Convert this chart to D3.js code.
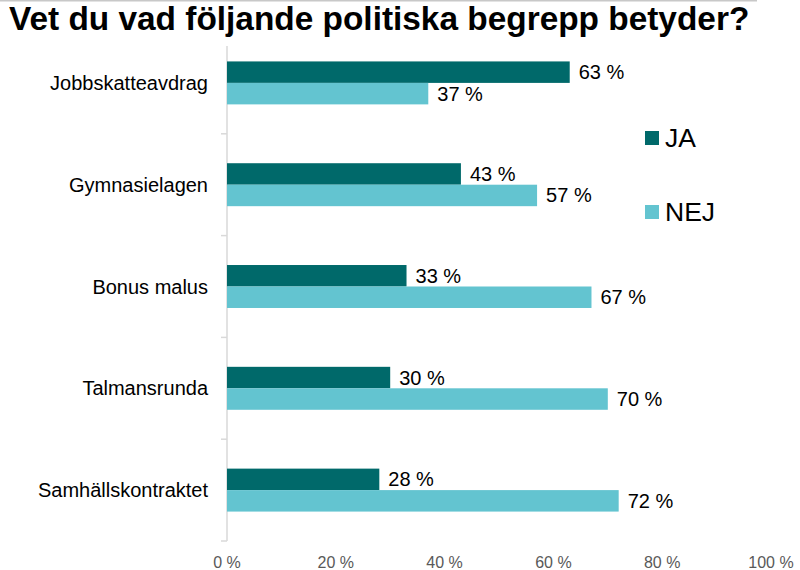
<!DOCTYPE html>
<html>
<head>
<meta charset="utf-8">
<title>Vet du vad följande politiska begrepp betyder?</title>
<style>
  body { margin: 0; background: #fff; }
  text { font-family: "Liberation Sans", Arial, sans-serif; }
</style>
</head>
<body>
<script src="https://d3js.org/d3.v7.min.js"></script>
<script>

var categories = ["Jobbskatteavdrag", "Gymnasielagen", "Bonus malus", "Talmansrunda", "Samhällskontraktet"];
var series = ["JA", "NEJ"];
var jaValues = [63, 43, 33, 30, 28];
var nejValues = [37, 57, 67, 70, 72];
var xTicks = [0, 20, 40, 60, 80, 100];
var colors = ["#00696A", "#63C4D0"];

var width = 800, height = 570;

var svg = d3.select("body")
    .append("svg")
    .attr("width", width)
    .attr("height", height);

// thin border line at the very top
svg.append("line")
    .attr("x1", 0).attr("x2", 757)
    .attr("y1", 0.5).attr("y2", 0.5)
    .attr("stroke", "#c8c8c8")
    .attr("stroke-width", 2);

var x = d3.scaleLinear()
    .domain([0, 100])
    .range([227, 771]);

var y = d3.scaleBand()
    .domain(categories)
    .range([32, 541])
    .paddingInner(0.578)
    .paddingOuter(0.289);

var ySub = d3.scaleBand()
    .domain(series)
    .range([0, y.bandwidth()]);

var rows = categories.map(function(c, i){
    return { cat: c, values: [jaValues[i], nejValues[i]] };
});

// axis line and category ticks
svg.append("line")
    .attr("x1", x(0)).attr("x2", x(0))
    .attr("y1", 46).attr("y2", y.range()[1])
    .attr("stroke", "#d9d9d9")
    .attr("stroke-width", 1.5);

var bounds = d3.range(1, categories.length + 1).map(function(i){
    return y.range()[0] + i * y.step();
});

svg.selectAll(".cattick")
    .data(bounds)
    .enter()
    .append("line")
    .attr("x1", x(0) - 6).attr("x2", x(0))
    .attr("y1", function(d){ return d; })
    .attr("y2", function(d){ return d; })
    .attr("stroke", "#d9d9d9")
    .attr("stroke-width", 1.5);

// bars
var group = svg.selectAll(".row")
    .data(rows)
    .enter()
    .append("g")
    .attr("transform", function(d){ return "translate(0," + y(d.cat) + ")"; });

group.selectAll("rect")
    .data(function(d){ return d.values.map(function(v, j){ return { s: series[j], v: v, j: j }; }); })
    .enter()
    .append("rect")
    .attr("x", x(0))
    .attr("y", function(d){ return ySub(d.s); })
    .attr("width", function(d){ return x(d.v) - x(0); })
    .attr("height", ySub.bandwidth())
    .attr("fill", function(d){ return colors[d.j]; });

group.selectAll(".val")
    .data(function(d){ return d.values.map(function(v, j){ return { s: series[j], v: v }; }); })
    .enter()
    .append("text")
    .attr("x", function(d){ return x(d.v) + 9; })
    .attr("y", function(d){ return ySub(d.s) + ySub.bandwidth() / 2; })
    .attr("dominant-baseline", "central")
    .attr("font-size", "20px")
    .attr("fill", "#000")
    .text(function(d){ return d.v + " %"; });

// category labels
svg.selectAll(".cat")
    .data(categories)
    .enter()
    .append("text")
    .attr("x", 208)
    .attr("y", function(d){ return y(d) + y.bandwidth() / 2; })
    .attr("text-anchor", "end")
    .attr("dominant-baseline", "central")
    .attr("font-size", "20px")
    .attr("fill", "#000")
    .text(function(d){ return d; });

// x tick labels
svg.selectAll(".xtick")
    .data(xTicks)
    .enter()
    .append("text")
    .attr("x", function(d){ return x(d); })
    .attr("y", 562)
    .attr("text-anchor", "middle")
    .attr("dominant-baseline", "central")
    .attr("font-size", "16px")
    .attr("fill", "#595959")
    .text(function(d){ return d + " %"; });

// legend
var legendY = [138, 212];
var legend = svg.selectAll(".legend")
    .data(series)
    .enter()
    .append("g")
    .attr("transform", function(d, i){ return "translate(645," + legendY[i] + ")"; });

legend.append("rect")
    .attr("x", 0).attr("y", -7)
    .attr("width", 14).attr("height", 14)
    .attr("fill", function(d, i){ return colors[i]; });

legend.append("text")
    .attr("x", 20)
    .attr("y", 0)
    .attr("dominant-baseline", "central")
    .attr("font-size", "26.5px")
    .attr("fill", "#000")
    .text(function(d){ return d; });

// title
svg.append("text")
    .attr("x", 9)
    .attr("y", 30)
    .attr("font-size", "33.4px")
    .attr("font-weight", "bold")
    .attr("fill", "#000")
    .text("Vet du vad följande politiska begrepp betyder?");

</script>
</body>
</html>
